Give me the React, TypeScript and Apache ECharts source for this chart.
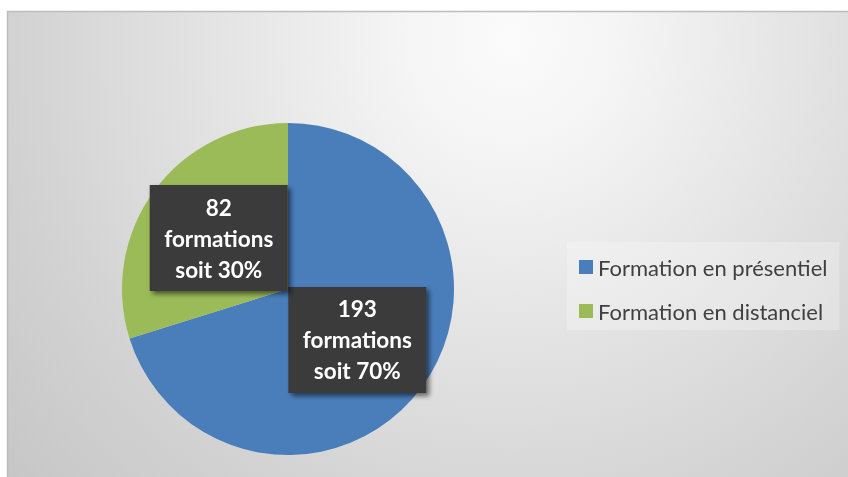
import React, { useEffect, useRef } from "react";
import * as echarts from "echarts";

const categories = ["Formation en présentiel", "Formation en distanciel"];
const values = [193, 82];
const percents = [70, 30];
const colors = ["#4a7ebb", "#9bbb59"];
const unitLabel = "formations";

export default function App() {
  const ref = useRef<HTMLDivElement>(null);
  useEffect(() => {
    const chart = echarts.init(ref.current!, null, { renderer: "svg" });
    chart.setOption({
      animation: false,
      graphic: [
        {
          type: "rect",
          z: -10,
          silent: true,
          shape: { x: 7.5, y: 11.5, width: 860, height: 480 },
          style: {
            fill: {
              type: "radial",
              x: 510,
              y: 40,
              r: 700,
              global: true,
              colorStops: [
                { offset: 0, color: "#fbfbfb" },
                { offset: 0.15, color: "#f5f5f5" },
                { offset: 0.45, color: "#e2e2e2" },
                { offset: 0.7, color: "#d3d3d3" },
                { offset: 1, color: "#c4c4c4" },
              ],
            },
            stroke: "#bdbdbd",
            lineWidth: 1.5,
          },
        },
      ],
      legend: {
        orient: "vertical",
        left: 567,
        top: 242,
        padding: [14, 12, 8, 12],
        backgroundColor: "rgba(255,255,255,0.25)",
        itemWidth: 14,
        itemHeight: 14,
        itemGap: 22,
        icon: "rect",
        data: categories,
        textStyle: {
          fontFamily: "Lato",
          fontSize: 22,
          lineHeight: 22,
          color: "#404040",
        },
      },
      series: [
        {
          type: "pie",
          center: [288, 289],
          radius: 166,
          startAngle: 90,
          clockwise: true,
          avoidLabelOverlap: false,
          emphasis: { disabled: true },
          itemStyle: { borderWidth: 0 },
          label: {
            show: true,
            position: "inside",
            formatter: (p: any) =>
              `${values[p.dataIndex]}\n${unitLabel}\nsoit ${percents[p.dataIndex]}%`,
            fontFamily: "Lato",
            fontWeight: "bold",
            fontSize: 22.5,
            lineHeight: 31,
            width: 118,
            align: "center",
            color: "#ffffff",
            backgroundColor: "#3b3b3b",
            padding: [7, 10, 6, 10],
            shadowColor: "rgba(0,0,0,0.55)",
            shadowBlur: 5,
            shadowOffsetX: 3,
            shadowOffsetY: 3,
          },
          labelLine: { show: false },
          data: categories.map((c, i) => ({
            name: c,
            value: values[i],
            itemStyle: { color: colors[i] },
          })),
        },
      ],
    });
    return () => chart.dispose();
  }, []);
  return (
    <div
      ref={ref}
      style={{ position: "fixed", left: 0, top: 0, width: 848, height: 477 }}
    />
  );
}
